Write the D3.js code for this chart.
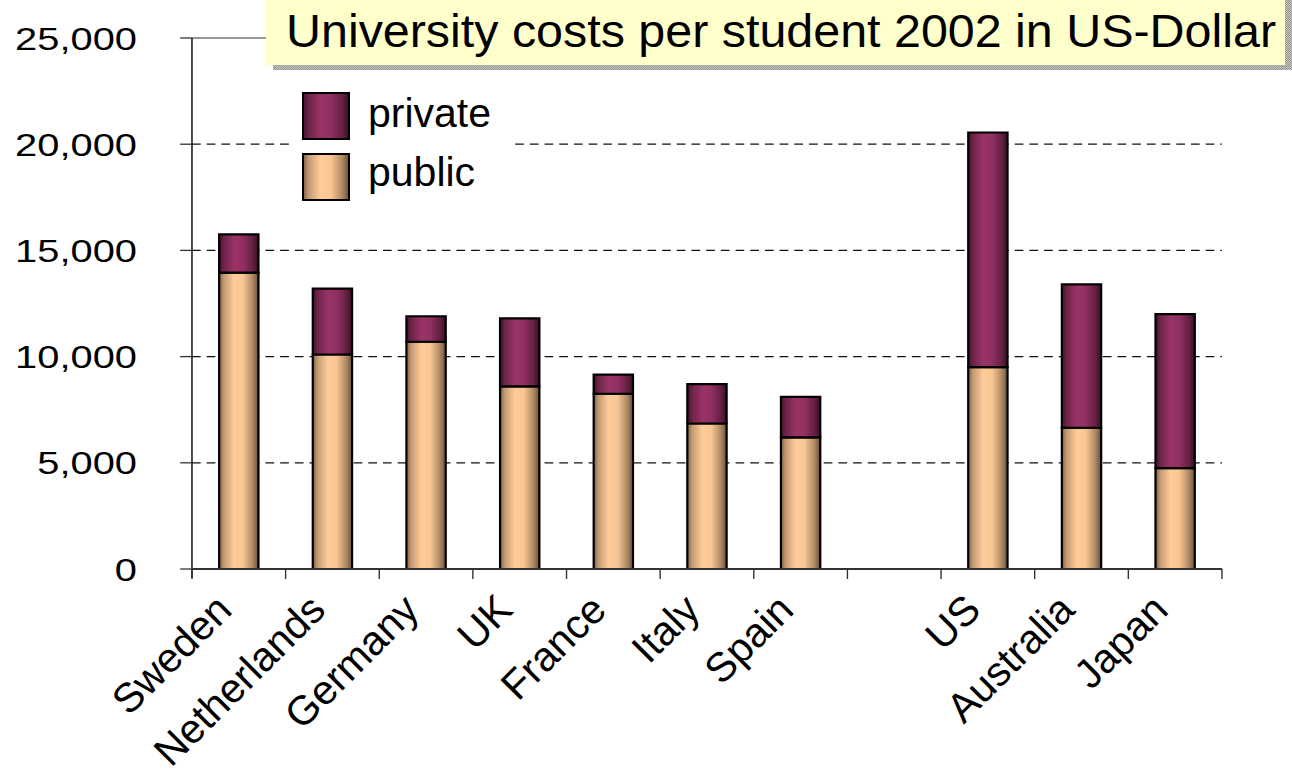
<!DOCTYPE html>
<html><head><meta charset="utf-8">
<script src="https://cdn.jsdelivr.net/npm/d3@7"></script>
<style>
html,body{margin:0;padding:0;background:#fff;}
svg{display:block;}
text{font-family:"Liberation Sans",Arial,Helvetica,sans-serif;fill:#000;}
</style></head>
<body>
<svg id="chart" width="1292" height="779"></svg>
<script>
// ---- data ----
const categories = ["Sweden","Netherlands","Germany","UK","France","Italy","Spain","","US","Australia","Japan"];
const publicValues  = [13950,10100,10700,8600,8250,6850,6200,null,9500,6650,4750];
const privateValues = [1800,3100,1200,3200,900,1850,1900,null,11050,6750,7250];
const yTicks = [0,5000,10000,15000,20000,25000];
const seriesNames = ["public","private"];
const legendLabels = ["private","public"];
const titleText = "University costs per student 2002 in US-Dollar";

// ---- layout: chart body drawn in a space stretched horizontally like the original slide ----
const SX = 1.245;
const plot = {left: 154.2, right: 981.5, top: 38, bottom: 569};

const svg = d3.select("#chart");
const defs = svg.append("defs");

function grad(id, stops){
  const g = defs.append("linearGradient").attr("id", id)
    .attr("x1","0").attr("x2","1").attr("y1","0").attr("y2","0");
  stops.forEach(s => g.append("stop").attr("offset", s[0]).attr("stop-color", s[1]));
}
grad("gPublic", [[0,"#7a5f45"],[0.12,"#c49a73"],[0.38,"#ffcc99"],[0.6,"#f9c794"],[0.85,"#b08a64"],[1,"#66503a"]]);
grad("gPrivate", [[0,"#40112a"],[0.12,"#6c2448"],[0.38,"#993366"],[0.6,"#923062"],[0.85,"#642142"],[1,"#380e24"]]);

const pat = defs.append("pattern").attr("id","shadowPat").attr("width",2).attr("height",2)
  .attr("patternUnits","userSpaceOnUse");
pat.append("rect").attr("width",2).attr("height",2).attr("fill","#c8c8c8");
pat.append("rect").attr("width",1).attr("height",1).attr("fill","#8a8a8a");
pat.append("rect").attr("x",1).attr("y",1).attr("width",1).attr("height",1).attr("fill","#9a9a9a");

const root = svg.append("g").attr("transform", `scale(${SX},1)`);
const flat = svg.append("g");

const idx = d3.range(categories.length);
const x = d3.scaleBand().domain(idx).range([plot.left, plot.right]).paddingInner(0.58).paddingOuter(0.29);
const xEdge = d3.scaleBand().domain(idx).range([plot.left, plot.right]).padding(0);
const y = d3.scaleLinear().domain([0, 25000]).range([plot.bottom, plot.top]);

// gridlines
root.append("g").selectAll("line").data(yTicks.filter(t => t > 0 && t < 25000)).join("line")
  .attr("x1", plot.left).attr("x2", plot.right)
  .attr("y1", d => y(d)).attr("y2", d => y(d))
  .attr("stroke", "#111").attr("stroke-width", 1.3).attr("stroke-dasharray", "7,4.8");
// top line
root.append("line").attr("x1", plot.left).attr("x2", plot.right)
  .attr("y1", y(25000)).attr("y2", y(25000)).attr("stroke","#333").attr("stroke-width",1.2);

// bars
const rows = idx.map(i => ({i, public: publicValues[i] || 0, private: privateValues[i] || 0}));
const stack = d3.stack().keys(seriesNames)(rows);
const fills = {public: "url(#gPublic)", private: "url(#gPrivate)"};
root.append("g").selectAll("g").data(stack).join("g")
  .attr("fill", d => fills[d.key])
  .selectAll("rect").data(d => d.filter(p => p[1] > p[0])).join("rect")
  .attr("x", d => x(d.data.i)).attr("width", x.bandwidth())
  .attr("y", d => y(d[1])).attr("height", d => y(d[0]) - y(d[1]))
  .attr("stroke", "#000").attr("stroke-width", 2.2).attr("vector-effect","non-scaling-stroke");

// y axis
const yAxis = root.append("g");
yAxis.append("line").attr("x1", plot.left).attr("x2", plot.left).attr("y1", plot.top).attr("y2", plot.bottom + 9)
  .attr("stroke","#000").attr("stroke-width",1.4).attr("vector-effect","non-scaling-stroke");
yAxis.selectAll("line.tick").data(yTicks).join("line").attr("class","tick")
  .attr("x1", plot.left - 9.5).attr("x2", plot.left).attr("y1", d => y(d)).attr("y2", d => y(d))
  .attr("stroke","#333").attr("stroke-width",1.3);
yAxis.selectAll("text").data(yTicks).join("text")
  .attr("x", 110).attr("y", d => y(d)).attr("dy","0.36em")
  .attr("text-anchor","end").attr("font-size", 32)
  .text(d => d3.format(",")(d));

// x axis
const xAxis = root.append("g");
xAxis.append("line").attr("x1", plot.left).attr("x2", plot.right).attr("y1", plot.bottom).attr("y2", plot.bottom)
  .attr("stroke","#333").attr("stroke-width",2);
const edges = idx.map(i => xEdge(i)).concat([plot.right]);
xAxis.selectAll("line.tick").data(edges).join("line").attr("class","tick")
  .attr("x1", d => d).attr("x2", d => d).attr("y1", plot.bottom).attr("y2", plot.bottom + 10)
  .attr("stroke","#333").attr("stroke-width",1.4).attr("vector-effect","non-scaling-stroke");
flat.append("g").selectAll("text").data(idx.filter(i => categories[i])).join("text")
  .attr("text-anchor","end").attr("font-size", 41)
  .attr("transform", i => `translate(${SX*(x(i) + x.bandwidth()/2) - 5},${plot.bottom + 43}) rotate(-45)`)
  .text(i => categories[i]);

// legend
root.append("rect").attr("x", 292/SX).attr("y", 86).attr("width", (515-292)/SX).attr("height", 118).attr("fill","#fff");
const legendItems = legendLabels.map((k, j) => ({k, j}));
root.append("g").selectAll("rect").data(legendItems).join("rect")
  .attr("x", 303/SX).attr("y", d => 93 + d.j*61).attr("width", 46/SX).attr("height", 46)
  .attr("fill", d => fills[d.k]).attr("stroke","#000").attr("stroke-width",2).attr("vector-effect","non-scaling-stroke");
flat.append("g").selectAll("text").data(legendItems).join("text")
  .attr("x", 368).attr("y", d => 127 + d.j*59).attr("font-size", 41)
  .text(d => d.k);

// title box
flat.append("rect").attr("x", 273).attr("y", 0).attr("width", 1292-273).attr("height", 70).attr("fill","url(#shadowPat)");
flat.append("rect").attr("x", 266).attr("y", -5).attr("width", 1285-266).attr("height", 70).attr("fill","#ffffcc");
flat.append("text").attr("x", 286).attr("y", 47).attr("font-size", 46)
  .attr("textLength", 990).attr("lengthAdjust","spacingAndGlyphs")
  .text(titleText);
</script>
</body></html>
